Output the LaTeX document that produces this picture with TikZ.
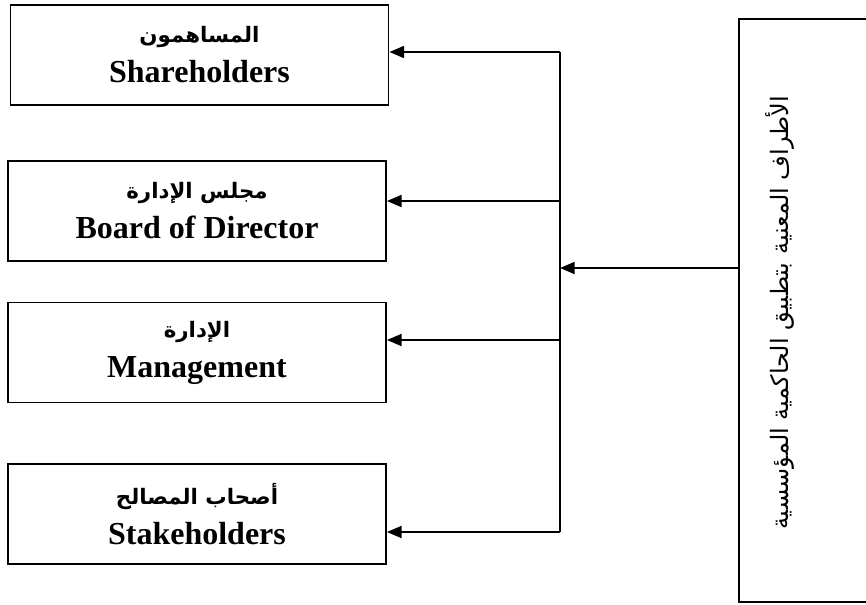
\documentclass[tikz,border=0pt]{standalone}
\usepackage{fontspec}
\setmainfont{Liberation Serif}
\newfontfamily\arabicfont[Script=Arabic]{DejaVu Sans}
\TeXXeTstate=1
\usetikzlibrary{arrows.meta}
\tikzset{
  box/.style={draw, line width=1.4pt, minimum width=283.5pt, minimum height=75pt,
    align=center, inner sep=0pt, font=\fontsize{24}{30}\selectfont\bfseries},
  arr/.style={line width=1.4pt, -{Triangle[length=11pt,width=9pt]}},
  ln/.style={line width=1.4pt}
}
\newcommand{\arline}[1]{{\arabicfont\fontsize{16}{19}\selectfont\bfseries\beginR #1\endR}}
\begin{document}
\begin{tikzpicture}[x=0.75pt,y=-0.75pt]
\useasboundingbox (0,0) rectangle (866,604);
\node[box] (sh) at (199.5,55) {\arline{المساهمون}\\Shareholders};
\node[box] (bd) at (197,211) {\arline{مجلس الإدارة}\\Board of Director};
\node[box] (mg) at (197,352.5) {\arline{الإدارة}\\Management};
\node[box] (st) at (197,514) {\arline{أصحاب المصالح}\\Stakeholders};
% right box (right side runs off the page)
\coordinate (rtr) at (868,19);
\coordinate (rtl) at (739,19);
\coordinate (rbl) at (739,602);
\coordinate (rbr) at (868,602);
\draw[line width=1.1pt] (rtr) -- (rtl) -- (rbl) -- (rbr);
\node[rotate=90, inner sep=0pt, font=\arabicfont\fontsize{18}{22}\selectfont] (rt) at (780,313) {\beginR الأطراف المعنية بتطبيق الحاكمية المؤسسية\endR};
% spine
\coordinate (s1) at (560,52);
\coordinate (s2) at (560,201);
\coordinate (s3) at (560,340);
\coordinate (s4) at (560,532);
\coordinate (sm) at (560,268);
\coordinate (rw) at (739,268);
\draw[ln] (s1) -- (s4);
\draw[arr] (s1) -- (s1 -| sh.east);
\draw[arr] (s2) -- (s2 -| bd.east);
\draw[arr] (s3) -- (s3 -| mg.east);
\draw[arr] (s4) -- (s4 -| st.east);
\draw[arr] (rw) -- (sm);
\end{tikzpicture}
\end{document}
